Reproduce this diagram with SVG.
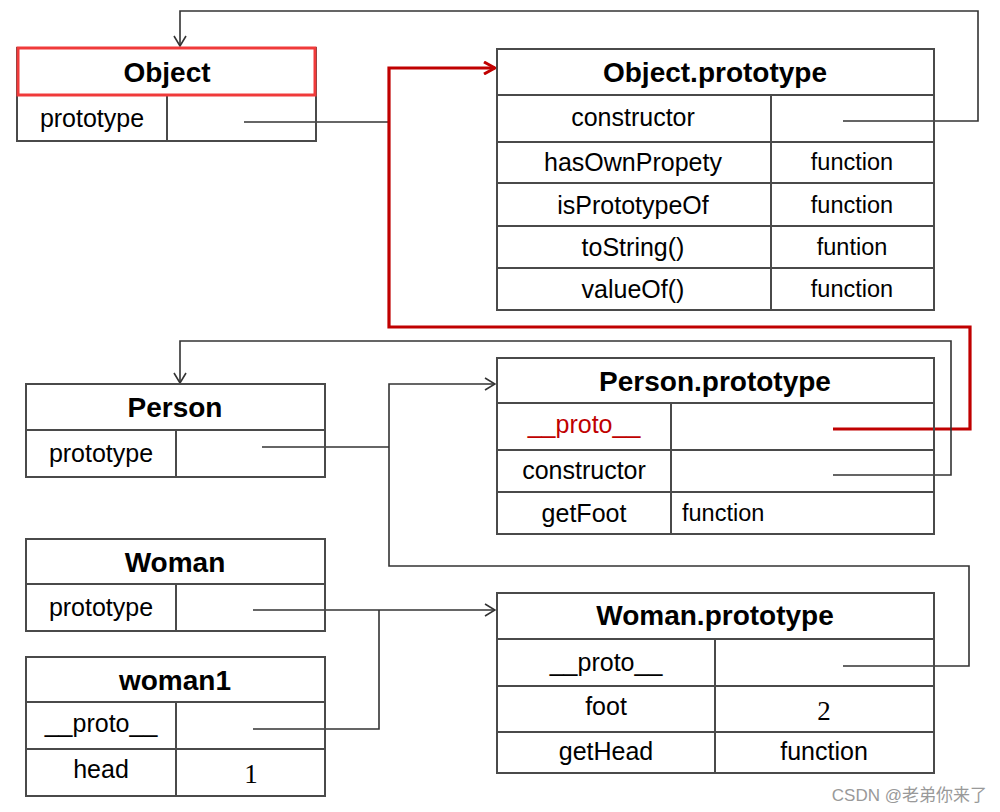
<svg xmlns="http://www.w3.org/2000/svg" width="1000" height="812" viewBox="0 0 1000 812">
<defs>
<style>
.tb{fill:#fff;stroke:#4a4a4a;stroke-width:2}
.ln{stroke:#4a4a4a;stroke-width:2;fill:none}
.hd{font-family:"Liberation Sans",Arial,sans-serif;font-weight:bold;font-size:28px;fill:#000;text-anchor:middle;dominant-baseline:central}
.lb{font-family:"Liberation Sans",Arial,sans-serif;font-size:25px;fill:#000;text-anchor:middle;dominant-baseline:central}
.fn{font-family:"Liberation Sans",Arial,sans-serif;font-size:23.5px;fill:#000;text-anchor:middle;dominant-baseline:central}
.num{font-family:"Liberation Serif","Times New Roman",serif;font-size:27px;fill:#000;text-anchor:middle;dominant-baseline:central}
.cn{fill:none;stroke:#333;stroke-width:1.6}
.red{fill:none;stroke:#c00000;stroke-width:3.2}
</style>
<marker id="ah" markerWidth="12" markerHeight="14" refX="11" refY="7" orient="auto" markerUnits="userSpaceOnUse">
<path d="M1,1 L11,7 L1,13" fill="none" stroke="#333" stroke-width="1.6"/>
</marker>
<marker id="ahr" markerWidth="14" markerHeight="14" refX="12" refY="7" orient="auto" markerUnits="userSpaceOnUse">
<path d="M1,1 L12,7 L1,13" fill="none" stroke="#c00000" stroke-width="3"/>
</marker>
</defs>
<rect width="1000" height="812" fill="#fff"/>

<g id="connectors">
<path class="cn" d="M843,121 H978 V11 H180 V46" marker-end="url(#ah)"/>
<path class="cn" d="M244,122 H389"/>
<path class="red" d="M833,429 H970 V327 H389 V68 H495" marker-end="url(#ahr)"/>
<path class="cn" d="M833,475 H951 V341 H180 V383" marker-end="url(#ah)"/>
<path class="cn" d="M262,447 H389"/>
<path class="cn" d="M843,666 H969 V566 H389 V384 H495" marker-end="url(#ah)"/>
<path class="cn" d="M253,610 H495" marker-end="url(#ah)"/>
<path class="cn" d="M253,729 H379 V610"/>
</g>

<g id="object">
<rect class="tb" x="17" y="48" width="299" height="93" fill-opacity="0"/>
<path class="ln" d="M17,95 H316 M167,95 V141"/>
<rect x="18" y="48" width="297" height="47" fill="none" stroke="#f03a3a" stroke-width="3"/>
<text class="hd" x="167" y="72">Object</text>
<text class="lb" x="92" y="118">prototype</text>
</g>

<g id="object-prototype">
<rect class="ln" x="497" y="49" width="437" height="261"/>
<path class="ln" d="M497,95 H934 M497,142 H934 M497,183 H934 M497,226 H934 M497,268 H934 M771,95 V310"/>
<text class="hd" x="715" y="72">Object.prototype</text>
<text class="lb" x="633" y="117">constructor</text>
<text class="lb" x="633" y="162">hasOwnPropety</text>
<text class="lb" x="633" y="205">isPrototypeOf</text>
<text class="lb" x="633" y="247">toString()</text>
<text class="lb" x="633" y="289">valueOf()</text>
<text class="fn" x="852" y="162">function</text>
<text class="fn" x="852" y="205">function</text>
<text class="fn" x="852" y="247">funtion</text>
<text class="fn" x="852" y="289">function</text>
</g>

<g id="person">
<rect class="ln" x="26" y="384" width="299" height="93"/>
<path class="ln" d="M26,430 H325 M176,430 V477"/>
<text class="hd" x="175" y="407">Person</text>
<text class="lb" x="101" y="453">prototype</text>
</g>

<g id="person-prototype">
<rect class="ln" x="497" y="358" width="437" height="176"/>
<path class="ln" d="M497,403 H934 M497,450 H934 M497,492 H934 M671,403 V534"/>
<text class="hd" x="715" y="381">Person.prototype</text>
<text class="lb" x="584" y="424" fill="#c00000" style="fill:#c00000">__proto__</text>
<text class="lb" x="584" y="470">constructor</text>
<text class="lb" x="584" y="513">getFoot</text>
<text class="fn" x="682" y="513" text-anchor="start" style="text-anchor:start">function</text>
</g>

<g id="woman">
<rect class="ln" x="26" y="539" width="299" height="92"/>
<path class="ln" d="M26,584 H325 M176,584 V631"/>
<text class="hd" x="175" y="562">Woman</text>
<text class="lb" x="101" y="607">prototype</text>
</g>

<g id="woman1">
<rect class="ln" x="26" y="657" width="299" height="139"/>
<path class="ln" d="M26,702 H325 M26,749 H325 M176,702 V796"/>
<text class="hd" x="175" y="680">woman1</text>
<text class="lb" x="101" y="723">__proto__</text>
<text class="lb" x="101" y="769">head</text>
<text class="num" x="251" y="774">1</text>
</g>

<g id="woman-prototype">
<rect class="ln" x="497" y="593" width="437" height="180"/>
<path class="ln" d="M497,639 H934 M497,686 H934 M497,732 H934 M715,639 V773"/>
<text class="hd" x="715" y="615">Woman.prototype</text>
<text class="lb" x="606" y="662">__proto__</text>
<text class="lb" x="606" y="706">foot</text>
<text class="lb" x="606" y="751">getHead</text>
<text class="num" x="824" y="711">2</text>
<text class="lb" x="824" y="751">function</text>
</g>

<text x="987" y="795" font-family="'Liberation Sans','Noto Sans CJK SC',sans-serif" font-size="17" fill="#999" text-anchor="end" dominant-baseline="central">CSDN @老弟你来了</text>
</svg>
